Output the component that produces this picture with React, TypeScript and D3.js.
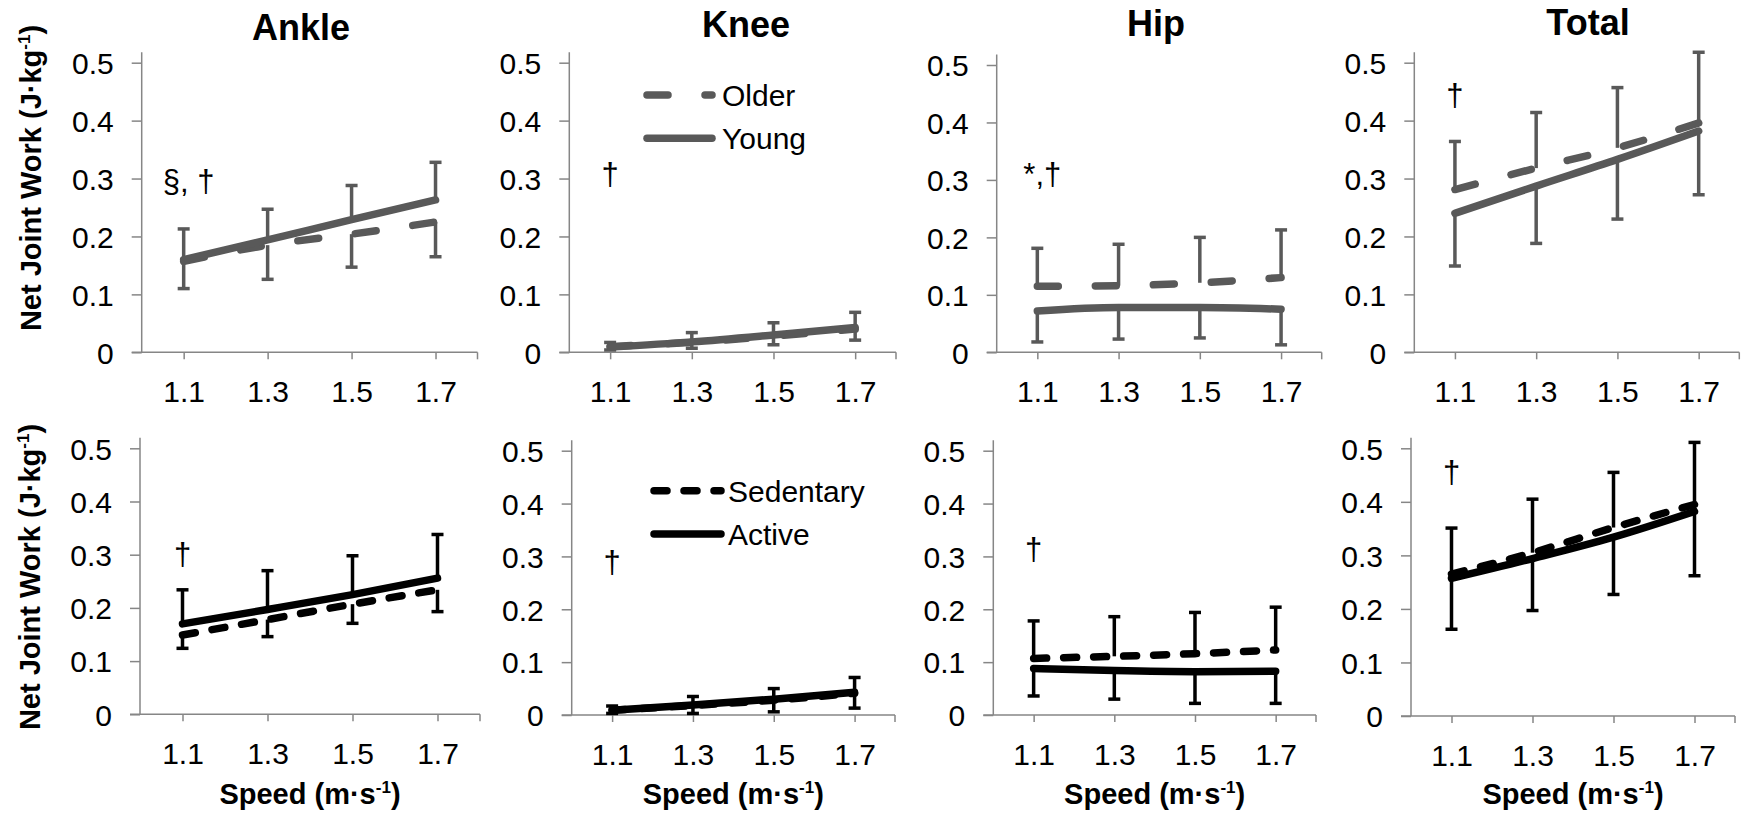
import React, { useEffect, useRef } from "react";
import * as d3 from "d3";

const speeds = ["1.1", "1.3", "1.5", "1.7"];
const joints = ["Ankle", "Knee", "Hip", "Total"];
const yTicks = [0, 0.1, 0.2, 0.3, 0.4, 0.5];

// top row - age groups (Ankle, Knee, Hip, Total)
const olderMean = [
  [0.157, 0.185, 0.204, 0.225],
  [0.010, 0.017, 0.028, 0.040],
  [0.115, 0.116, 0.121, 0.130],
  [0.281, 0.318, 0.353, 0.396],
];
const olderSd = [
  [0.047, 0.059, 0.057, 0.060],
  [0.007, 0.017, 0.023, 0.029],
  [0.066, 0.072, 0.079, 0.083],
  [0.083, 0.096, 0.104, 0.122],
];
const youngMean = [
  [0.160, 0.194, 0.229, 0.263],
  [0.009, 0.018, 0.030, 0.043],
  [0.072, 0.078, 0.078, 0.075],
  [0.240, 0.287, 0.333, 0.382],
];
const youngSd = [
  [0.053, 0.053, 0.059, 0.065],
  [0.005, 0.011, 0.017, 0.022],
  [0.054, 0.055, 0.053, 0.062],
  [0.091, 0.099, 0.103, 0.110],
];
// which way each group's error bar points, per joint
const olderErrDir = [-1, 1, 1, 1];
const youngErrDir = [1, -1, -1, -1];

// bottom row - activity groups
const sedentaryMean = [
  [0.149, 0.178, 0.207, 0.234],
  [0.009, 0.018, 0.028, 0.041],
  [0.107, 0.111, 0.116, 0.123],
  [0.265, 0.305, 0.352, 0.395],
];
const sedentarySd = [
  [0.025, 0.032, 0.036, 0.041],
  [0.008, 0.017, 0.022, 0.030],
  [0.071, 0.075, 0.078, 0.081],
  [0.086, 0.100, 0.103, 0.116],
];
const activeMean = [
  [0.170, 0.197, 0.225, 0.256],
  [0.009, 0.019, 0.030, 0.043],
  [0.088, 0.084, 0.082, 0.083],
  [0.257, 0.294, 0.334, 0.382],
];
const activeSd = [
  [0.064, 0.073, 0.073, 0.082],
  [0.006, 0.016, 0.024, 0.030],
  [0.052, 0.054, 0.060, 0.061],
  [0.095, 0.097, 0.107, 0.120],
];
const sedentaryErrDir = [-1, 1, 1, 1];
const activeErrDir = [1, -1, -1, -1];

// significance marks
const topMarks = ["§, †", "†", "*,†", "†"];
const topMarkY = [0.276, 0.288, 0.291, 0.425];
const bottomMarks = ["†", "†", "†", "†"];
const bottomMarkY = [0.281, 0.269, 0.293, 0.435];

// layout: [left, right, y of 0.5, y of 0]
const topFrames = [
  [141.7, 477.5, 62.7, 352.3],
  [569.3, 896, 62.7, 352.3],
  [996.7, 1321.7, 65, 352.3],
  [1414.3, 1739.3, 62.7, 352.3],
];
const bottomFrames = [
  [140, 480, 448.3, 714.3],
  [571.7, 895, 450.7, 715],
  [993.3, 1316, 450.7, 715],
  [1411, 1735, 448.3, 716],
];
const titleX = [301, 746, 1156, 1588];
const titleY = [40, 37, 36, 35];

const FONT = "'Liberation Sans', Arial, sans-serif";
const GRAY = "#595959";
const AXIS = "#868686";

function drawPanel(svg, frame, series, mark, markY, showXLabel) {
  const [left, right, top, bottom] = frame;
  const x = d3.scalePoint().domain(speeds).range([left, right]).padding(0.5);
  const y = d3.scaleLinear().domain([0, 0.5]).range([bottom, top]);
  const g = svg.append("g");

  const ya = g.append("g").attr("transform", `translate(${left},0)`)
    .call(d3.axisLeft(y).tickValues(yTicks).tickSize(10).tickSizeOuter(0).tickPadding(18)
      .tickFormat(d => (d === 0 ? "0" : d3.format(".1f")(d))));
  ya.select(".domain").remove();
  ya.selectAll("line").attr("stroke", AXIS).attr("stroke-width", 1.5);
  ya.selectAll("text").attr("font-size", 30).attr("font-family", FONT).attr("fill", "#000").attr("dy", "0.36em");
  g.append("line").attr("x1", left).attr("x2", left).attr("y1", bottom).attr("y2", top - 10.5)
    .attr("stroke", AXIS).attr("stroke-width", 1.5);

  const xa = g.append("g").attr("transform", `translate(0,${bottom})`)
    .call(d3.axisBottom(x).tickSize(7).tickSizeOuter(0).tickPadding(21.5));
  xa.select(".domain").remove();
  xa.selectAll("line").attr("stroke", AXIS).attr("stroke-width", 1.5);
  xa.selectAll("text").attr("font-size", 30).attr("font-family", FONT).attr("fill", "#000");
  g.append("line").attr("x1", left - 10).attr("x2", right).attr("y1", bottom).attr("y2", bottom)
    .attr("stroke", AXIS).attr("stroke-width", 1.5);
  g.append("line").attr("x1", right).attr("x2", right).attr("y1", bottom).attr("y2", bottom + 7)
    .attr("stroke", AXIS).attr("stroke-width", 1.5);

  const line = d3.line().x((d, i) => x(speeds[i])).y(d => y(d)).curve(d3.curveMonotoneX);

  series.forEach(s => {
    const eb = g.append("g");
    s.mean.forEach((m, i) => {
      const end = m + s.dir * s.sd[i];
      const cx = x(speeds[i]);
      eb.append("line").attr("x1", cx).attr("x2", cx).attr("y1", y(m)).attr("y2", y(end))
        .attr("stroke", s.color).attr("stroke-width", 3.5);
      eb.append("line").attr("x1", cx - 6).attr("x2", cx + 6).attr("y1", y(end)).attr("y2", y(end))
        .attr("stroke", s.color).attr("stroke-width", 3.5);
    });
  });
  series.forEach(s => {
    g.append("path").attr("d", line(s.mean)).attr("fill", "none")
      .attr("stroke", s.color).attr("stroke-width", 7.5)
      .attr("stroke-linecap", "round").attr("stroke-linejoin", "round")
      .attr("stroke-dasharray", s.dash || null);
  });

  g.append("text").attr("x", x(speeds[0]) + (mark.length > 1 ? 5 : 0)).attr("y", y(markY))
    .attr("text-anchor", "middle").attr("font-size", 31).attr("font-family", FONT).text(mark);

  if (showXLabel) {
    const t = g.append("text").attr("x", (left + right) / 2).attr("y", 804)
      .attr("text-anchor", "middle").attr("font-size", 29).attr("font-weight", "bold").attr("font-family", FONT);
    t.append("tspan").text("Speed (m·s");
    t.append("tspan").attr("font-size", 17).attr("dy", -11).text("-1");
    t.append("tspan").attr("dy", 11).text(")");
  }
}

function yLabel(svg, cx, cy) {
  const t = svg.append("text").attr("transform", `translate(${cx},${cy}) rotate(-90)`)
    .attr("text-anchor", "middle").attr("dy", "0.36em").attr("font-size", 29)
    .attr("font-weight", "bold").attr("font-family", FONT);
  t.append("tspan").text("Net Joint Work (J·kg");
  t.append("tspan").attr("font-size", 17).attr("dy", -11).text("-1");
  t.append("tspan").attr("dy", 11).text(")");
}

function legend(svg, x0, x1, ys, textX, items) {
  items.forEach((it, i) => {
    svg.append("path").attr("d", d3.line()([[x0 + 4, ys[i]], [x1 - 4, ys[i]]]))
      .attr("stroke", it.color).attr("stroke-width", 7.5).attr("stroke-linecap", "round")
      .attr("stroke-dasharray", it.dash || null).attr("fill", "none");
    svg.append("text").attr("x", textX).attr("y", ys[i]).attr("dy", "0.36em")
      .attr("font-size", 30).attr("font-family", FONT).text(it.label);
  });
}

function App() {
  const ref = useRef(null);

  useEffect(() => {
    const svg = d3.select(ref.current);
    svg.selectAll("*").remove();

    const olderStyle = { color: GRAY, dash: "21,37" };
    const youngStyle = { color: GRAY };
    const sedStyle = { color: "#000", dash: "13,17" };
    const actStyle = { color: "#000" };

    joints.forEach((j, k) => {
      svg.append("text").attr("x", titleX[k]).attr("y", titleY[k]).attr("text-anchor", "middle")
        .attr("font-size", 36).attr("font-weight", "bold").attr("font-family", FONT).text(j);

      drawPanel(svg, topFrames[k], [
        { ...olderStyle, mean: olderMean[k], sd: olderSd[k], dir: olderErrDir[k] },
        { ...youngStyle, mean: youngMean[k], sd: youngSd[k], dir: youngErrDir[k] },
      ], topMarks[k], topMarkY[k], false);

      drawPanel(svg, bottomFrames[k], [
        { ...sedStyle, mean: sedentaryMean[k], sd: sedentarySd[k], dir: sedentaryErrDir[k] },
        { ...actStyle, mean: activeMean[k], sd: activeSd[k], dir: activeErrDir[k] },
      ], bottomMarks[k], bottomMarkY[k], true);
    });

    yLabel(svg, 31, 178);
    yLabel(svg, 30, 577);

    legend(svg, 643, 716, [95, 138.3], 722, [
      { ...olderStyle, label: "Older" },
      { ...youngStyle, label: "Young" },
    ]);
    legend(svg, 650, 725, [490.7, 534], 728, [
      { ...sedStyle, label: "Sedentary" },
      { ...actStyle, label: "Active" },
    ]);
  }, []);

  return (
    <svg ref={ref} width={1744} height={815}
      style={{ position: "absolute", left: 0, top: 0, background: "#fff" }} />
  );
}

export default App;
